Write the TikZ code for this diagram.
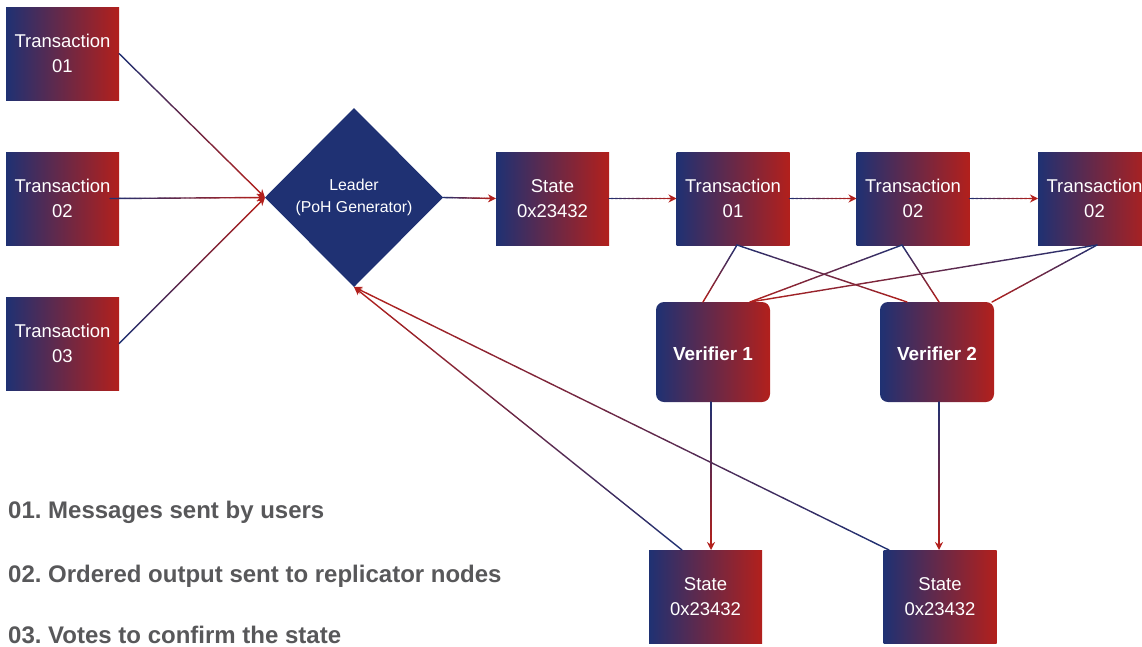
\documentclass[tikz,border=0pt]{standalone}
\usepackage{fontspec}
\setmainfont{Liberation Sans}
\usetikzlibrary{shapes.geometric,arrows.meta,calc}
\definecolor{myblue}{HTML}{1F3173}
\definecolor{myred}{HTML}{B2201C}
\definecolor{legendgray}{HTML}{58585A}
\frenchspacing

\tikzset{
  gbox/.style={rectangle, minimum width=113pt, minimum height=93pt, inner sep=0pt, outer sep=0pt,
    left color=myblue, right color=myred, text=white, align=center,
    font=\fontsize{18.5}{25}\selectfont},
  vbox/.style={gbox, rounded corners=8pt, minimum width=114pt, minimum height=100pt,
    font=\fontsize{18.9}{22}\selectfont\bfseries},
  leaderbox/.style={diamond, fill=myblue, minimum width=178pt, minimum height=179pt,
    inner sep=0pt, outer sep=0pt, text=white, align=center,
    font=\fontsize{15.8}{22}\selectfont},
  legendtext/.style={anchor=base west, inner sep=0pt, text=legendgray,
    font=\fontsize{24}{28}\selectfont\bfseries},
  gseg/.style={line width=1.4pt, line cap=round},
  arrowend/.style={-{Stealth[length=8pt,width=8pt]}, line width=1.4pt, draw=myred},
}

% connector whose colour runs from blue at its start to red at its end
\newcommand\gradline[2]{%
  \foreach \k in {1,...,30}{%
    \pgfmathsetmacro\gpa{(\k-1)/30}%
    \pgfmathsetmacro\gpb{\k/30}%
    \pgfmathtruncatemacro\gpc{round(100*(\k-0.5)/30)}%
    \draw[gseg, draw=myred!\gpc!myblue] ($(#1)!\gpa!(#2)$) -- ($(#1)!\gpb!(#2)$);
  }}
\newcommand\gradarrow[2]{%
  \coordinate (gend) at ($(#2)!5pt!(#1)$);
  \gradline{#1}{gend}%
  \draw[arrowend] ($(#2)!7pt!(#1)$) -- (#2);}
% verifier label with its baseline set below the box centre
\newcommand\vlabel[1]{\smash{\raisebox{-8.8pt}{#1}}}

\begin{document}
\begin{tikzpicture}[x=1pt,y=-1pt]
  \useasboundingbox (0,0) rectangle (1142,646);
  \clip (0,0) rectangle (1142,646);

  % incoming transactions
  \node[gbox] (t1) at (62.5,53.5) {Transaction\\01};
  \node[gbox] (t2) at (62.5,198.5) {Transaction\\02};
  \node[gbox] (t3) at (62.5,343.5) {Transaction\\03};

  % leader
  \node[leaderbox] (l) at (354,197.5) {Leader\\(PoH Generator)};

  % ordered output
  \node[gbox] (st) at (552.5,198.5) {State\\0x23432};
  \node[gbox] (tx1) at (733,198.5) {Transaction\\01};
  \node[gbox] (tx2) at (913,198.5) {Transaction\\02};
  \node[gbox] (tx3) at (1094.5,198.5) {Transaction\\02};

  % verifiers and their states
  \node[vbox] (v1) at (713,352) {\vlabel{Verifier 1}};
  \node[vbox] (v2) at (937,352) {\vlabel{Verifier 2}};
  \node[gbox] (s1) at (705.5,596.5) {State\\0x23432};
  \node[gbox] (s2) at (940,596.5) {State\\0x23432};

  % legend
  \node[legendtext] (g1) at (8,518) {01. Messages sent by users};
  \node[legendtext] (g2) at (8,582) {02. Ordered output sent to replicator nodes};
  \node[legendtext] (g3) at (8,643) {03. Votes to confirm the state};

  % transactions into the leader
  \coordinate (t2out) at ([xshift=-9]t2.east);
  \gradarrow{t1.east}{l.west}
  \gradarrow{t2out}{l.west}
  \gradarrow{t3.east}{l.west}

  % leader output chain
  \gradarrow{l.east}{st.west}
  \gradarrow{st.east}{tx1.west}
  \gradarrow{tx1.east}{tx2.west}
  \gradarrow{tx2.east}{tx3.west}

  % transactions to verifiers
  \coordinate (x1b) at ([xshift=4]tx1.south);
  \coordinate (x2b) at ([xshift=-11]tx2.south);
  \coordinate (x3b) at ([xshift=2.5]tx3.south);
  \coordinate (v1a) at ([xshift=-10]v1.north);
  \coordinate (v1b) at ([xshift=37]v1.north);
  \coordinate (v2a) at ([xshift=-30]v2.north);
  \coordinate (v2b) at ([xshift=2]v2.north);
  \coordinate (v2c) at ([xshift=55]v2.north);
  \gradline{x1b}{v1a}
  \gradline{x1b}{v2a}
  \gradline{x2b}{v1b}
  \gradline{x2b}{v2b}
  \gradline{x3b}{v1b}
  \gradline{x3b}{v2c}

  % verifiers to states
  \coordinate (v1s) at ([xshift=-2]v1.south);
  \coordinate (s1n) at ([xshift=5.5]s1.north);
  \coordinate (v2s) at ([xshift=2]v2.south);
  \coordinate (s2n) at ([xshift=-1]s2.north);
  \gradarrow{v1s}{s1n}
  \gradarrow{v2s}{s2n}

  % votes back to the leader
  \coordinate (s1v) at ([xshift=-23.5]s1.north);
  \coordinate (s2v) at ([xshift=-51]s2.north);
  \gradarrow{s1v}{l.south}
  \gradarrow{s2v}{l.south}
\end{tikzpicture}
\end{document}
